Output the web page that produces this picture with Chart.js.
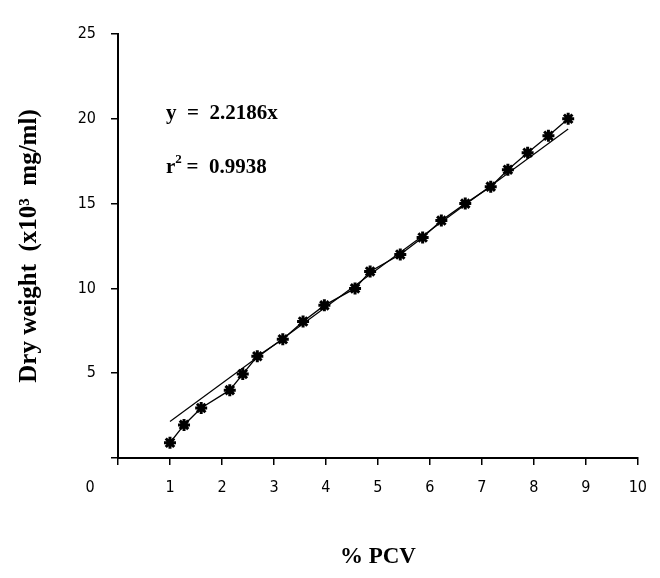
<!DOCTYPE html>
<html>
<head>
<meta charset="utf-8">
<script src="https://cdn.jsdelivr.net/npm/chart.js@4"></script>
<style>
  html, body { margin: 0; padding: 0; background: #fff; }
  #wrap { width: 660px; height: 578px; }
</style>
</head>
<body>
<div id="wrap"><canvas id="pcv" width="660" height="578"></canvas></div>
<script>
// % PCV vs dry weight
const pcv = [1.0, 1.27, 1.6, 2.15, 2.4, 2.68, 3.17, 3.56, 3.97, 4.56, 4.85, 5.43, 5.86, 6.22, 6.68, 7.17, 7.5, 7.88, 8.28, 8.66];
const dryWeight = [0.9, 1.95, 2.95, 4.0, 4.95, 6.0, 7.0, 8.05, 9.0, 10.0, 11.0, 12.0, 13.0, 14.0, 15.0, 16.0, 17.0, 18.0, 19.0, 20.0];
// fitted line y = 2.2186x, ends
const fitX = [1.0, 8.66];
const fitY = [2.15, 19.4];
const xTicks = [0, 1, 2, 3, 4, 5, 6, 7, 8, 9, 10];
const yTicks = [0, 5, 10, 15, 20, 25];

const tickFont = { family: 'Liberation Sans Narrow, DejaVu Sans Condensed, Arial Narrow, sans-serif', size: 16 };
const titleFont = { family: 'Liberation Serif, Times New Roman, serif', size: 23, weight: 'bold' };

// equation text and the lone "0" at the origin
const notes = {
    id: 'notes',
    afterDraw(chart) {
        const c = chart.ctx;
        const a = chart.chartArea;
        c.save();
        c.fillStyle = '#000';
        c.font = 'bold 21px "Liberation Serif", serif';
        c.textBaseline = 'alphabetic';
        const x0 = a.left + 48;
        c.fillText('y  =  2.2186x', x0, a.top + 85);
        c.fillText('r', x0, a.top + 139);
        const rw = c.measureText('r').width;
        c.font = 'bold 13px "Liberation Serif", serif';
        c.fillText('2', x0 + rw, a.top + 129);
        c.font = 'bold 21px "Liberation Serif", serif';
        c.fillText(' =  0.9938', x0 + rw + 6, a.top + 139);
        c.font = '16px "Liberation Sans Narrow", "DejaVu Sans Condensed", sans-serif';
        c.textAlign = 'center';
        c.textBaseline = 'middle';
        c.fillText('0', a.left - 28, a.bottom + 30);
        c.restore();
    }
};

const ctx = document.getElementById('pcv').getContext('2d');
const chart = new Chart(ctx, {
    type: 'scatter',
    data: {
        datasets: [{
            label: 'Dry weight',
            data: pcv.map((x, i) => ({ x: x, y: dryWeight[i] })),
            showLine: true,
            borderColor: '#000',
            backgroundColor: '#000',
            borderWidth: 1.3,
            pointStyle: 'star',
            pointRadius: 6,
            pointBorderWidth: 3,
            pointBorderColor: '#000',
            clip: false
        }, {
            label: 'Fit',
            data: fitX.map((x, i) => ({ x: x, y: fitY[i] })),
            showLine: true,
            borderColor: '#000',
            borderWidth: 1.2,
            pointRadius: 0
        }]
    },
    options: {
        responsive: false,
        animation: false,
        layout: { padding: { left: 0, right: 20, top: 34, bottom: 0 } },
        plugins: {
            legend: { display: false },
            tooltip: { enabled: false }
        },
        scales: {
            x: {
                type: 'linear',
                min: 0,
                max: 10,
                afterBuildTicks: s => { s.ticks = xTicks.map(v => ({ value: v })); },
                afterFit: s => { s.height = 120; },
                ticks: {
                    color: '#000',
                    font: tickFont,
                    padding: 13,
                    maxRotation: 0,
                    callback: v => v === 0 ? '' : v
                },
                grid: { drawOnChartArea: false, drawTicks: true, tickLength: 7, color: '#000', lineWidth: 1.5 },
                border: { display: true, color: '#000', width: 2 },
                title: { display: true, text: '% PCV', color: '#000', font: titleFont, padding: { top: 0, bottom: 7 } }
            },
            y: {
                type: 'linear',
                min: 0,
                max: 25,
                afterBuildTicks: s => { s.ticks = yTicks.map(v => ({ value: v })); },
                afterFit: s => { s.width = 118; },
                ticks: {
                    color: '#000',
                    font: tickFont,
                    padding: 15,
                    callback: v => v === 0 ? '' : v
                },
                grid: { drawOnChartArea: false, drawTicks: true, tickLength: 7, color: '#000', lineWidth: 1.5 },
                border: { display: true, color: '#000', width: 2 },
                title: {
                    display: true,
                    text: 'Dry weight  (x10\u00B3  mg/ml)',
                    color: '#000',
                    font: { family: 'Liberation Serif, Times New Roman, serif', size: 25, weight: 'bold' },
                    padding: { top: 15, bottom: 0 }
                }
            }
        }
    },
    plugins: [notes]
});
</script>
</body>
</html>
